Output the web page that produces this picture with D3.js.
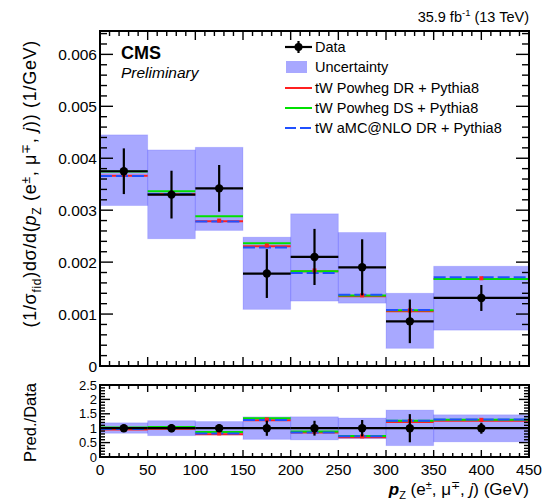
<!DOCTYPE html>
<html>
<head>
<meta charset="utf-8">
<script src="https://cdn.jsdelivr.net/npm/d3@7"></script>
<style>
  html, body { margin: 0; padding: 0; background: #fff; }
  svg text { font-family: "Liberation Sans", Arial, Helvetica, sans-serif; fill: #000; }
</style>
</head>
<body>
<svg id="chart" width="544" height="500"></svg>
<script>
// Bin edges in p_Z (GeV)
const binEdges = [0, 50, 100, 150, 200, 250, 300, 350, 450];

// Normalised differential cross section (1/GeV)
const dataVals = [0.00375, 0.00330, 0.00342, 0.00178, 0.00210, 0.00190, 0.00086, 0.00131];
const dataErr  = [0.00044, 0.00046, 0.00045, 0.00047, 0.00054, 0.00054, 0.00042, 0.00025];

// Total uncertainty band (low / high edges)
const uncLow  = [0.00309, 0.00245, 0.00261, 0.00109, 0.00125, 0.00121, 0.00034, 0.00069];
const uncHigh = [0.00445, 0.00416, 0.00421, 0.00248, 0.00293, 0.00257, 0.00140, 0.00192];

// Generator predictions
const predDR  = [0.00368, 0.00332, 0.00280, 0.00232, 0.00184, 0.00136, 0.00107, 0.00169];
const predDS  = [0.00373, 0.00335, 0.00287, 0.00235, 0.00181, 0.00134, 0.00106, 0.00166];
const predAMC = [0.00366, 0.00331, 0.00278, 0.00228, 0.00179, 0.00137, 0.00108, 0.00171];

// Tick labels
const xTicks = [0, 50, 100, 150, 200, 250, 300, 350, 400, 450];
const yTicksTop = [0, 0.001, 0.002, 0.003, 0.004, 0.005, 0.006];
const yTicksRatio = [0, 0.5, 1, 1.5, 2, 2.5];

const legendLabels = ["Data", "Uncertainty", "tW Powheg DR + Pythia8", "tW Powheg DS + Pythia8", "tW aMC@NLO DR + Pythia8"];

const colDR = "#ff2020", colDS = "#00e000", colAMC = "#2050ff";
const bandFill = "#0000ff", bandOpacity = 0.34;

const svg = d3.select("#chart");

const L = 100, R = 529;
const topPanel = { t: 31, b: 366 };
const ratioPanel = { t: 385, b: 457 };

const x = d3.scaleLinear().domain([0, 450]).range([L, R]);
const y = d3.scaleLinear().domain([0, 0.00645]).range([topPanel.b, topPanel.t]);
const yr = d3.scaleLinear().domain([0, 2.5]).range([ratioPanel.b, ratioPanel.t]);

const bins = dataVals.map((v, i) => ({
  lo: binEdges[i], hi: binEdges[i + 1], mid: (binEdges[i] + binEdges[i + 1]) / 2,
  data: v, err: dataErr[i], uLo: uncLow[i], uHi: uncHigh[i],
  dr: predDR[i], ds: predDS[i], amc: predAMC[i]
}));

function drawPanel(g, ys, get) {
  // uncertainty boxes
  g.selectAll("rect.band").data(bins).join("rect")
    .attr("x", d => x(d.lo)).attr("width", d => x(d.hi) - x(d.lo))
    .attr("y", d => ys(get(d, "uHi"))).attr("height", d => ys(get(d, "uLo")) - ys(get(d, "uHi")))
    .attr("fill", bandFill).attr("fill-opacity", bandOpacity)
    .attr("stroke", bandFill).attr("stroke-opacity", 0.12);

  // prediction lines
  const preds = [["dr", colDR, null, 0.8], ["ds", colDS, null, -0.8], ["amc", colAMC, "12,4", 0]];
  preds.forEach(([k, c, dash, off]) => {
    g.selectAll("line.p-" + k).data(bins).join("line")
      .attr("x1", d => x(d.lo)).attr("x2", d => x(d.hi))
      .attr("y1", d => ys(get(d, k)) + off).attr("y2", d => ys(get(d, k)) + off)
      .attr("stroke", c).attr("stroke-width", 2)
      .attr("stroke-dasharray", dash);
  });
  // DR marker at bin centre
  g.selectAll("rect.m-dr").data(bins).join("rect")
    .attr("x", d => x(d.mid) - 2).attr("y", d => ys(get(d, "dr")) - 2)
    .attr("width", 4).attr("height", 4).attr("fill", colDR);

  // data: horizontal bin-width bar, vertical error, marker
  g.selectAll("line.dh").data(bins).join("line")
    .attr("x1", d => x(d.lo)).attr("x2", d => x(d.hi))
    .attr("y1", d => ys(get(d, "data"))).attr("y2", d => ys(get(d, "data")))
    .attr("stroke", "#000").attr("stroke-width", 2.2);
  g.selectAll("line.dv").data(bins).join("line")
    .attr("x1", d => x(d.mid)).attr("x2", d => x(d.mid))
    .attr("y1", d => ys(get(d, "data") + get(d, "err"))).attr("y2", d => ys(get(d, "data") - get(d, "err")))
    .attr("stroke", "#000").attr("stroke-width", 2.2);
  g.selectAll("circle.dm").data(bins).join("circle")
    .attr("cx", d => x(d.mid)).attr("cy", d => ys(get(d, "data"))).attr("r", 4.2)
    .attr("fill", "#000");
}

// absolute values
const absGet = (d, k) => d[k];
// ratios to data
const ratioGet = (d, k) => {
  if (k === "data") return 1;
  return d[k] / d.data;
};

const gTop = svg.append("g");
drawPanel(gTop, y, absGet);
const gRatio = svg.append("g");
drawPanel(gRatio, yr, ratioGet);

// Frames and ROOT-style inward ticks
function frame(panel, ys, yMajor, yMinorStep, yMajLen, yMinLen, xMajLen, xMinLen, showX, labelSize) {
  const g = svg.append("g");
  // x ticks bottom & top
  d3.range(0, 451, 10).forEach(v => {
    const len = v % 50 === 0 ? xMajLen : xMinLen;
    g.append("line").attr("x1", x(v)).attr("x2", x(v)).attr("y1", panel.b).attr("y2", panel.b - len)
      .attr("stroke", "#000").attr("stroke-width", 1.4);
    g.append("line").attr("x1", x(v)).attr("x2", x(v)).attr("y1", panel.t).attr("y2", panel.t + len)
      .attr("stroke", "#000").attr("stroke-width", 1.4);
  });
  // y ticks left & right
  const dom = ys.domain();
  const n = Math.floor((dom[1] - dom[0]) / yMinorStep + 1e-6);
  for (let i = 0; i <= n; i++) {
    const v = dom[0] + i * yMinorStep;
    const isMajor = yMajor.some(m => Math.abs(m - v) < yMinorStep * 0.01);
    const len = isMajor ? yMajLen : yMinLen;
    g.append("line").attr("x1", L).attr("x2", L + len).attr("y1", ys(v)).attr("y2", ys(v))
      .attr("stroke", "#000").attr("stroke-width", 1.4);
    g.append("line").attr("x1", R).attr("x2", R - len).attr("y1", ys(v)).attr("y2", ys(v))
      .attr("stroke", "#000").attr("stroke-width", 1.4);
  }
  g.append("rect").attr("x", L).attr("y", panel.t).attr("width", R - L).attr("height", panel.b - panel.t)
    .attr("fill", "none").attr("stroke", "#000").attr("stroke-width", 2);
  // y labels
  g.selectAll("text.yl").data(yMajor).join("text")
    .attr("x", L - 3).attr("y", d => ys(d)).attr("dy", "0.36em")
    .attr("text-anchor", "end").attr("font-size", labelSize)
    .text(d => d3.format("~g")(d));
  if (showX) {
    g.selectAll("text.xl").data(xTicks).join("text")
      .attr("x", d => x(d)).attr("y", panel.b + 18)
      .attr("text-anchor", "middle").attr("font-size", 15.5)
      .text(d => d);
  }
}
frame(topPanel, y, yTicksTop, 0.0002, 13, 7, 9, 5, false, 15.5);
frame(ratioPanel, yr, yTicksRatio, 0.1, 10, 5, 7, 4, true, 13);

// Header
svg.append("text").attr("x", R).attr("y", 22).attr("text-anchor", "end").attr("font-size", 14.5)
  .call(t => {
    t.append("tspan").text("35.9 fb");
    t.append("tspan").attr("dy", -6).attr("font-size", 9.5).text("-1");
    t.append("tspan").attr("dy", 6).text(" (13 TeV)");
  });
svg.append("text").attr("x", 121).attr("y", 59).attr("font-size", 18).attr("font-weight", "bold").text("CMS");
svg.append("text").attr("x", 121).attr("y", 78).attr("font-size", 15.5).attr("font-style", "italic").text("Preliminary");

// Legend
const lg = svg.append("g");
const lx = 285, lw = 27, tx = 315;
const ly = [47, 67, 88, 108, 128];
// Data
lg.append("line").attr("x1", lx).attr("x2", lx + lw).attr("y1", ly[0]).attr("y2", ly[0]).attr("stroke", "#000").attr("stroke-width", 2.2);
lg.append("line").attr("x1", lx + lw / 2).attr("x2", lx + lw / 2).attr("y1", ly[0] - 6).attr("y2", ly[0] + 6).attr("stroke", "#000").attr("stroke-width", 2.2);
lg.append("circle").attr("cx", lx + lw / 2).attr("cy", ly[0]).attr("r", 4).attr("fill", "#000");
// Uncertainty
lg.append("rect").attr("x", lx + 1).attr("y", ly[1] - 6).attr("width", 21).attr("height", 12)
  .attr("fill", bandFill).attr("fill-opacity", bandOpacity);
// Predictions
lg.append("line").attr("x1", lx).attr("x2", lx + lw).attr("y1", ly[2]).attr("y2", ly[2]).attr("stroke", colDR).attr("stroke-width", 2);
lg.append("line").attr("x1", lx).attr("x2", lx + lw).attr("y1", ly[3]).attr("y2", ly[3]).attr("stroke", colDS).attr("stroke-width", 2);
lg.append("line").attr("x1", lx).attr("x2", lx + lw).attr("y1", ly[4]).attr("y2", ly[4]).attr("stroke", colAMC).attr("stroke-width", 2).attr("stroke-dasharray", "11,4");
lg.selectAll("text").data(legendLabels).join("text")
  .attr("x", tx).attr("y", (d, i) => ly[i]).attr("dy", "0.36em").attr("font-size", 14.5)
  .text(d => d);

// Axis titles
const yt = svg.append("text").attr("transform", "translate(36,40) rotate(-90)")
  .attr("text-anchor", "end").attr("font-size", 18).attr("letter-spacing", 0.7);
yt.append("tspan").text("(1/σ");
yt.append("tspan").attr("dy", 5).attr("font-size", 12).text("fid");
yt.append("tspan").attr("dy", -5).text(")dσ/d(");
yt.append("tspan").attr("font-style", "italic").text("p");
yt.append("tspan").attr("dy", 5).attr("font-size", 12).text("Z");
yt.append("tspan").attr("dy", -5).text(" (e");
yt.append("tspan").attr("dy", -6).attr("font-size", 12).text("±");
yt.append("tspan").attr("dy", 6).text(", μ");
yt.append("tspan").attr("dy", -6).attr("font-size", 12).text("∓");
yt.append("tspan").attr("dy", 6).text(", ");
yt.append("tspan").attr("font-style", "italic").text("j");
yt.append("tspan").text(")) (1/GeV)");

svg.append("text").attr("transform", "translate(36,383) rotate(-90)")
  .attr("text-anchor", "end").attr("font-size", 16.5).text("Pred./Data");

const xt = svg.append("text").attr("x", R).attr("y", 495).attr("text-anchor", "end").attr("font-size", 17);
xt.append("tspan").attr("font-style", "italic").attr("font-weight", "bold").text("p");
xt.append("tspan").attr("dy", 4).attr("font-size", 11).text("Z");
xt.append("tspan").attr("dy", -4).text(" (e");
xt.append("tspan").attr("dy", -6).attr("font-size", 11).text("±");
xt.append("tspan").attr("dy", 6).text(", μ");
xt.append("tspan").attr("dy", -6).attr("font-size", 11).text("∓");
xt.append("tspan").attr("dy", 6).text(", ");
xt.append("tspan").attr("font-style", "italic").text("j");
xt.append("tspan").text(") (GeV)");
</script>
</body>
</html>
